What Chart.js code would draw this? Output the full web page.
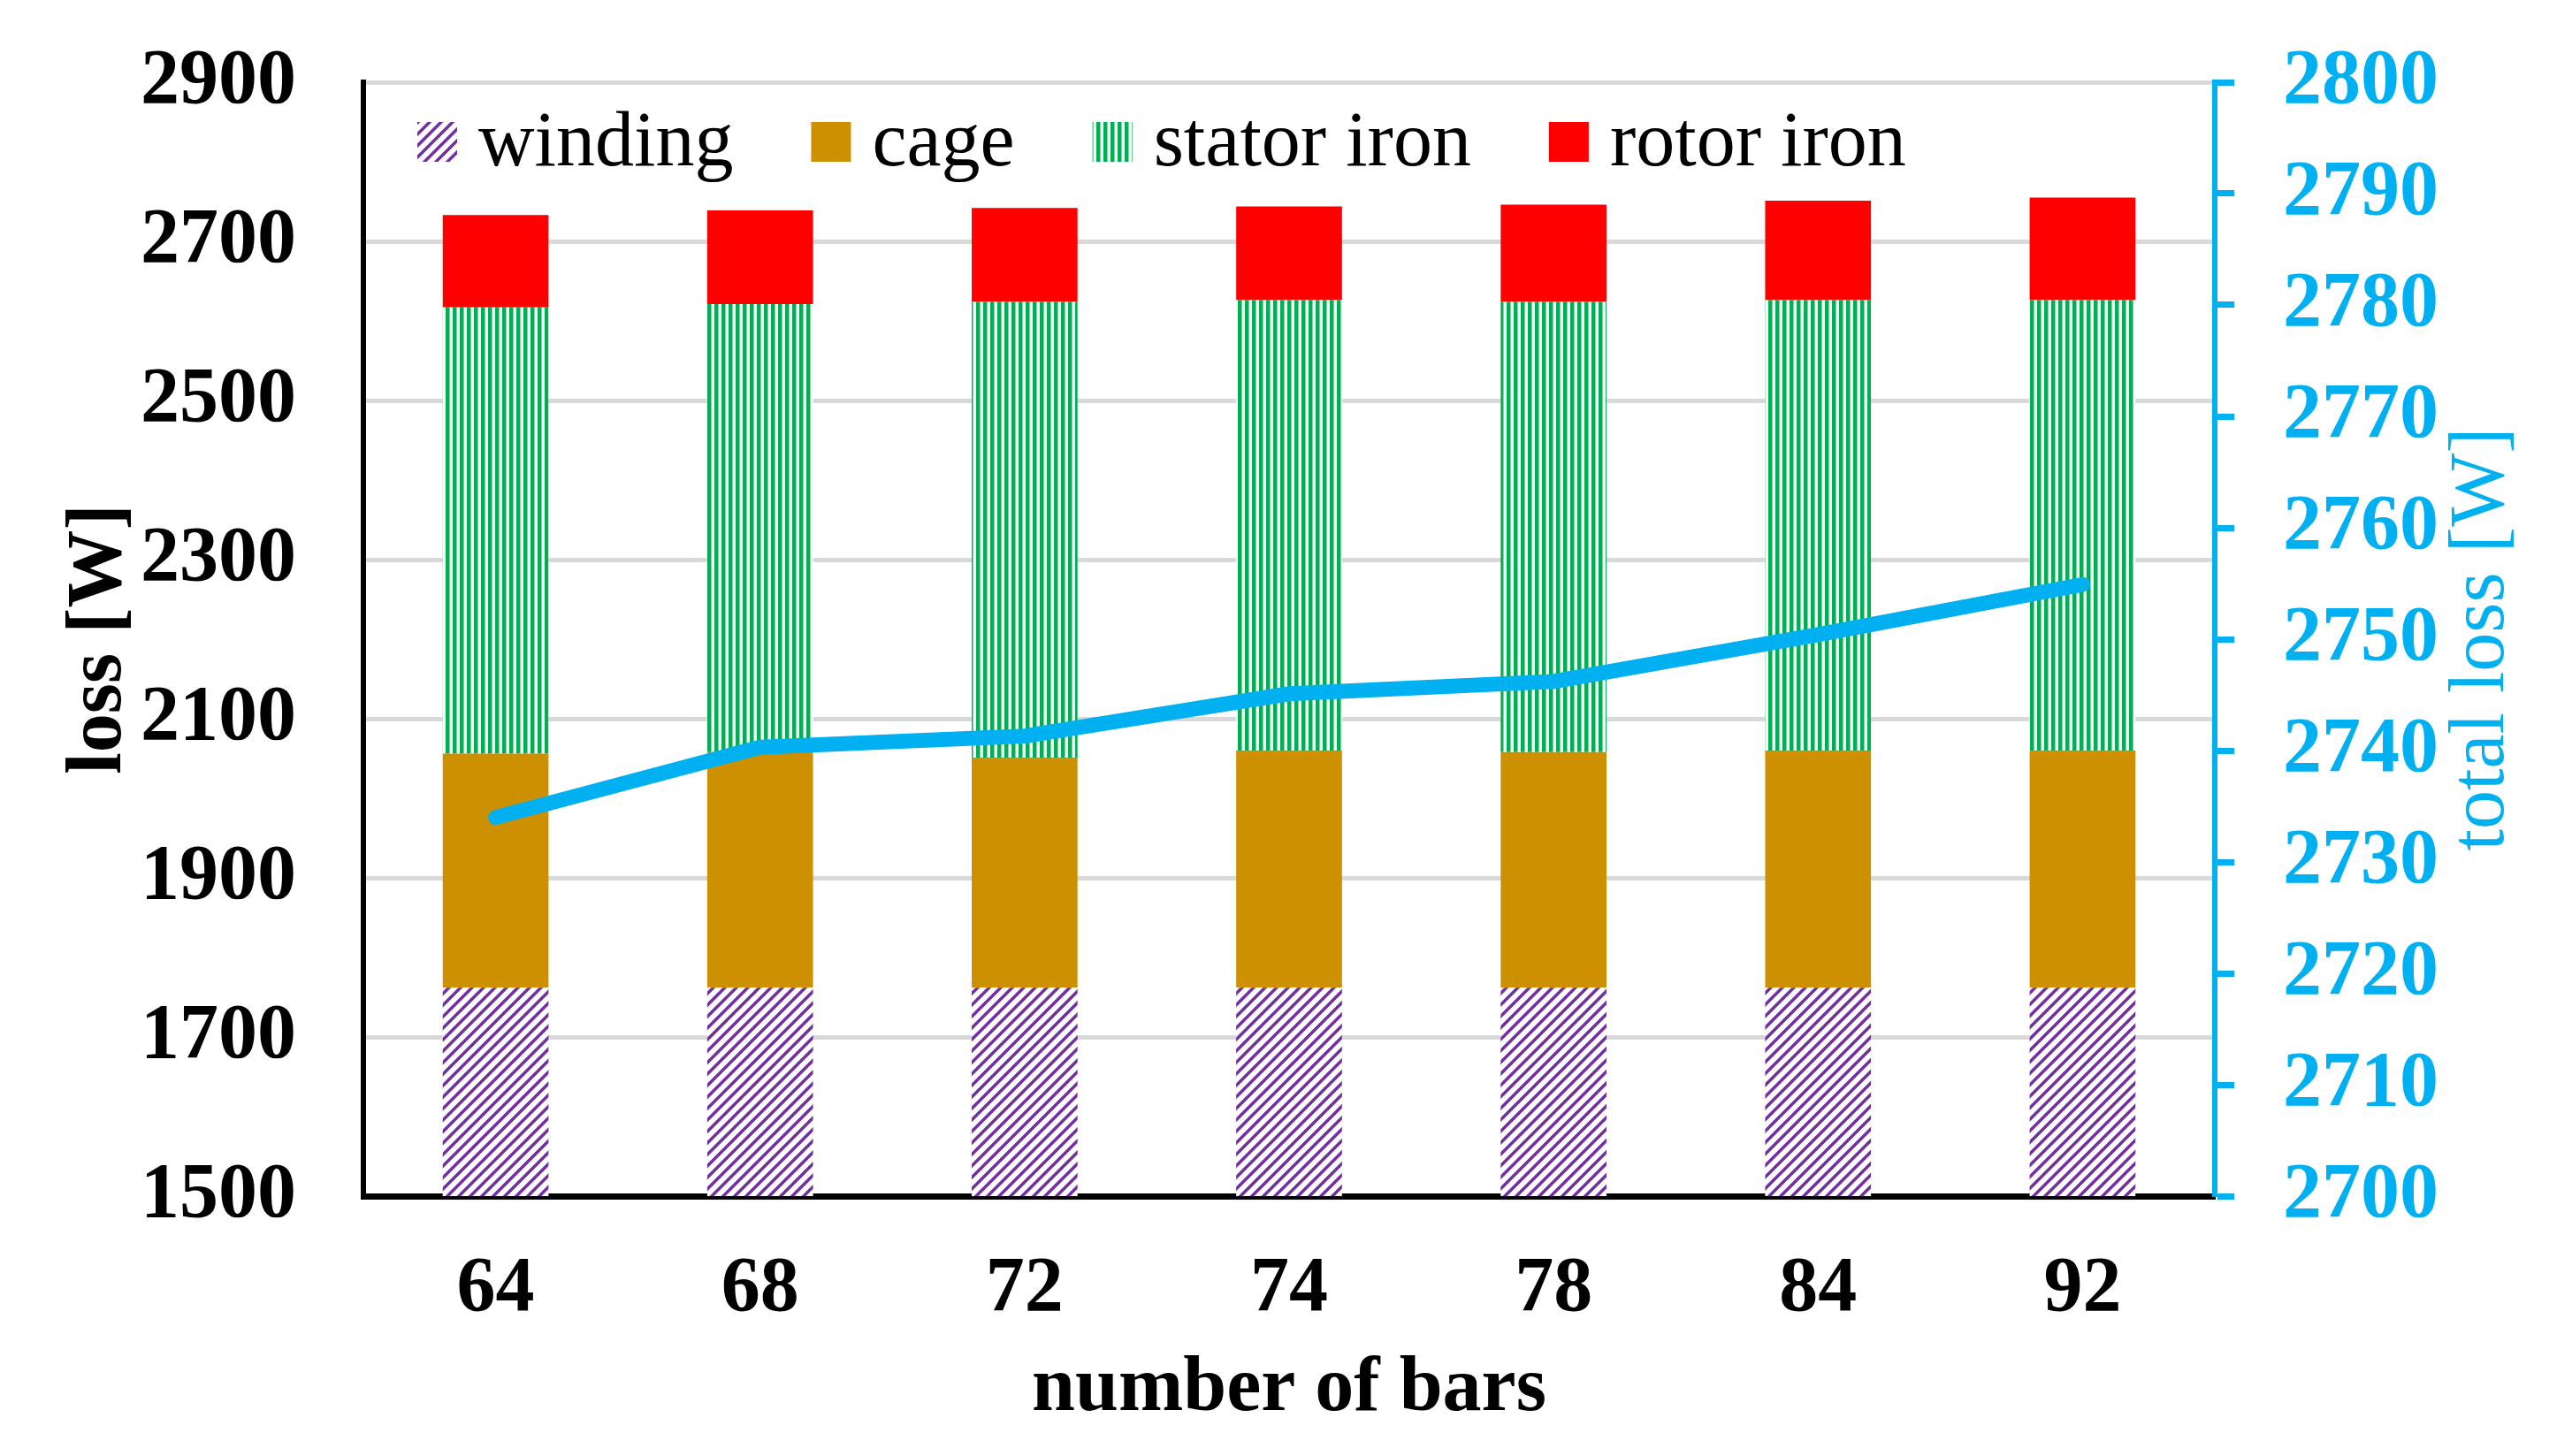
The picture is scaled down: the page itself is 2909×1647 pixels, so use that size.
<!DOCTYPE html>
<html>
<head>
<meta charset="utf-8">
<script src="https://cdn.jsdelivr.net/npm/chart.js@4/dist/chart.umd.min.js"></script>
<style>
  html, body { margin: 0; padding: 0; background: #fff; }
  #wrap { width: 2909px; height: 1647px; }
</style>
</head>
<body>
<div id="wrap"><canvas id="lossChart"></canvas></div>
<script>
// number of rotor bars
const categories = ['64', '68', '72', '74', '78', '84', '92'];

// stacked loss parts [W]
const winding    = [1762, 1762, 1762, 1762, 1762, 1762, 1762];
const cage       = [294, 296, 289, 298, 296, 298, 298];
const statorIron = [561, 563, 573, 566, 566, 566, 566];
const rotorIron  = [116, 118, 118, 118, 122, 125, 129];

// total loss on the right axis [W]
const totalLoss = [2734, 2740.3, 2741.3, 2745.1, 2746.2, 2750.4, 2754.9];

// axis ranges
const lossRange  = [1500, 2900, 200];
const totalRange = [2700, 2800, 10];

const FONT = '"Liberation Serif", "Times New Roman", serif';
const BLUE = '#00B0F0';

const canvas = document.getElementById('lossChart');
const ctx = canvas.getContext('2d');

function makePattern(size, draw) {
  const c = document.createElement('canvas');
  c.width = size;
  c.height = size;
  const g = c.getContext('2d');
  g.fillStyle = '#fff';
  g.fillRect(0, 0, size, size);
  draw(g, size);
  return ctx.createPattern(c, 'repeat');
}

// purple "/" hatch for winding
const windingFill = makePattern(13, (g, s) => {
  g.strokeStyle = '#7030A0';
  g.lineWidth = 3.5;
  g.beginPath();
  g.moveTo(-2, s + 2); g.lineTo(s + 2, -2);
  g.moveTo(-2, 2); g.lineTo(2, -2);
  g.moveTo(s - 2, s + 2); g.lineTo(s + 2, s - 2);
  g.stroke();
});

// green vertical stripes for stator iron
const statorFill = makePattern(8, (g, s) => {
  g.fillStyle = '#00B050';
  g.fillRect(0, 0, 4.5, s);
});

// legend drawn inside the plot, like the original
const insideLegend = {
  id: 'insideLegend',
  afterDatasetsDraw(chart) {
    const { ctx, chartArea } = chart;
    ctx.save();
    ctx.font = '88px ' + FONT;
    ctx.textBaseline = 'middle';
    let x = chartArea.left + 61;
    const y = chartArea.top + 67;
    chart.data.datasets.forEach(ds => {
      if (ds.type === 'line') return;
      ctx.fillStyle = ds.backgroundColor;
      ctx.fillRect(x, y - 22, 45, 45);
      x += 45 + 24;
      ctx.fillStyle = '#000';
      ctx.fillText(ds.label, x, y + 4);
      x += ctx.measureText(ds.label).width + 88;
    });
    ctx.restore();
  }
};

// right title reads bottom-to-top in the original
const rightTitle = {
  id: 'rightTitle',
  afterDraw(chart) {
    const { ctx, chartArea } = chart;
    const sc = chart.scales.y2;
    ctx.save();
    ctx.translate(sc.right - 101, (chartArea.top + chartArea.bottom) / 2);
    ctx.rotate(-Math.PI / 2);
    ctx.textAlign = 'center';
    ctx.textBaseline = 'middle';
    ctx.font = '88px ' + FONT;
    ctx.fillStyle = BLUE;
    ctx.fillText('total loss [W]', 0, 0);
    ctx.restore();
  }
};

// fixed axis widths, no extra label padding at the ends
function fixWidth(w) {
  return s => {
    s.width = w;
    s.paddingTop = 0;
    s.paddingBottom = 0;
  };
}

new Chart(canvas, {
  data: {
    labels: categories,
    datasets: [
      { type: 'line', label: 'total loss', data: totalLoss, yAxisID: 'y2', order: 0,
        borderColor: BLUE, borderWidth: 17, pointRadius: 0, tension: 0,
        borderJoinStyle: 'round', borderCapStyle: 'round' },
      { type: 'bar', label: 'winding', data: winding, backgroundColor: windingFill, order: 1 },
      { type: 'bar', label: 'cage', data: cage, backgroundColor: '#CC9000', order: 1 },
      { type: 'bar', label: 'stator iron', data: statorIron, backgroundColor: statorFill, order: 1 },
      { type: 'bar', label: 'rotor iron', data: rotorIron, backgroundColor: '#FF0000', order: 1 }
    ]
  },
  options: {
    responsive: true,
    maintainAspectRatio: false,
    devicePixelRatio: 1,
    animation: false,
    layout: { padding: { top: 93, left: 0, right: 0, bottom: 0 } },
    datasets: { bar: { categoryPercentage: 0.8, barPercentage: 0.5 } },
    plugins: { legend: { display: false }, tooltip: { enabled: false } },
    scales: {
      x: {
        stacked: true,
        grid: { display: false },
        border: { color: '#000', width: 7 },
        ticks: { color: '#000', padding: 45, font: { family: FONT, size: 88, weight: 'bold' } },
        title: { display: true, text: 'number of bars', color: '#000',
                 padding: { top: 0, bottom: 22 }, font: { family: FONT, size: 88, weight: 'bold' } },
        afterFit(s) { s.height = 294; }
      },
      y: {
        stacked: true,
        position: 'left',
        min: lossRange[0], max: lossRange[1],
        grid: { color: '#D9D9D9', lineWidth: 5, drawTicks: false },
        border: { color: '#000', width: 6 },
        ticks: { stepSize: lossRange[2], color: '#000', padding: 76,
                 format: { useGrouping: false },
                 font: { family: FONT, size: 88, weight: 'bold' } },
        title: { display: true, text: 'loss [W]', color: '#000',
                 padding: { top: 60, bottom: 0 }, font: { family: FONT, size: 88, weight: 'bold' } },
        afterFit: fixWidth(411)
      },
      y2: {
        position: 'right',
        min: totalRange[0], max: totalRange[1],
        grid: { drawOnChartArea: false, color: BLUE, tickColor: BLUE, tickLength: 22, tickWidth: 7 },
        border: { color: BLUE, width: 6 },
        ticks: { stepSize: totalRange[2], color: BLUE, padding: 55,
                 format: { useGrouping: false },
                 font: { family: FONT, size: 88, weight: 'bold' } },
        afterFit: fixWidth(404)
      }
    }
  },
  plugins: [insideLegend, rightTitle]
});
</script>
</body>
</html>
